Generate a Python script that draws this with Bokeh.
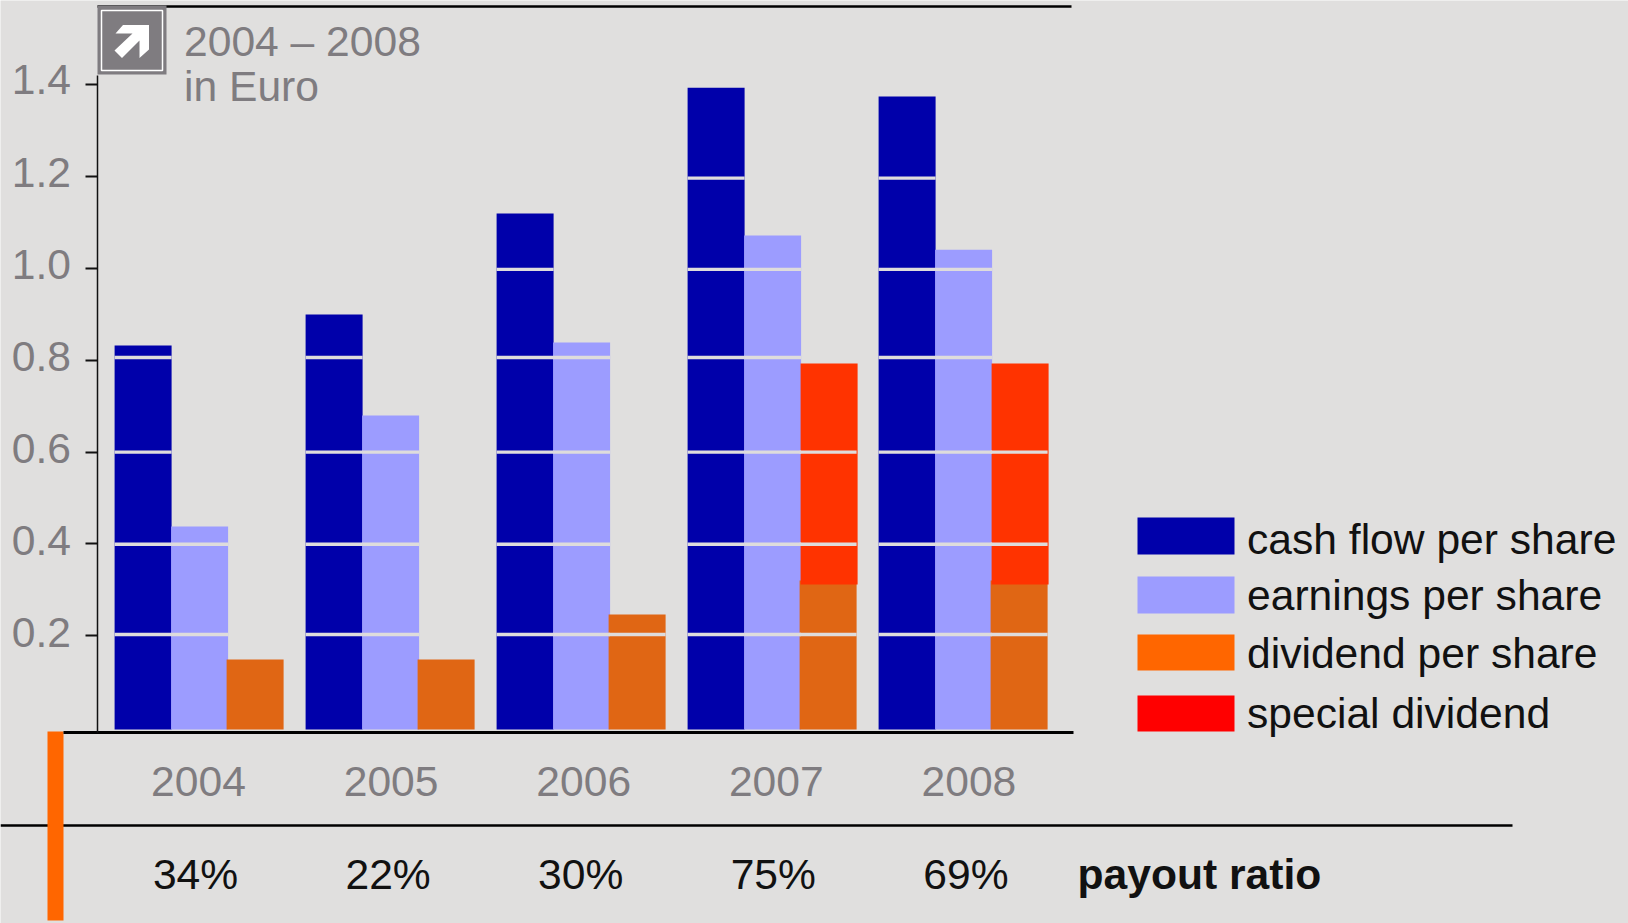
from bokeh.core.properties import value
from bokeh.embed import file_html
from bokeh.models import FixedTicker, LinearAxis, NumeralTickFormatter, Range1d
from bokeh.plotting import figure
from bokeh.resources import INLINE

# Per-share figures in Euro
years = [2004, 2005, 2006, 2007, 2008]
cash_flow = [0.832, 0.900, 1.120, 1.394, 1.375]
earnings = [0.438, 0.680, 0.839, 1.072, 1.041]
dividend = [0.148, 0.148, 0.246, 0.320, 0.320]
special_base = [0.3115, 0.3115]
special_top = [0.793, 0.793]
special_years = [2007, 2008]
payout = ["34%", "22%", "30%", "75%", "69%"]
value_ticks = [0.2, 0.4, 0.6, 0.8, 1.0, 1.2, 1.4]
band_levels = [0.2026, 0.3993, 0.600, 0.806, 0.998, 1.197]
legend_labels = ["cash flow per share", "earnings per share", "dividend per share", "special dividend"]
legend_colors = ["#0000AA", "#9C9CFF", "#FF6600", "#FF0000"]

W, H = 1628, 923
BG = "#E0DFDE"
GREY = "#7F7C80"
INK = "#111111"
FONT = value("Liberation Sans")
SIZE = "42.6px"

# Scale of the value and year axes in page pixels
ZERO_Y, PX_PER_EURO = 727.0, 459.0
LABEL_ZERO_Y, LABEL_PX_PER_EURO = 724.5, 460.75
CENTER_X, PX_PER_YEAR = 199.1, 191.0
LABEL_X, PX_PER_LABEL = 198.0, 192.6
FLOOR = -0.0044
# Text in this backend lands below the requested baseline by this many pixels
TEXT_SHIFT = 15

p = figure(
    width=W, height=H, output_backend="svg", toolbar_location=None,
    x_axis_type=None, y_axis_type=None,
    x_range=Range1d(2004 - CENTER_X / PX_PER_YEAR, 2004 + (W - CENTER_X) / PX_PER_YEAR),
    y_range=Range1d((ZERO_Y - H) / PX_PER_EURO, ZERO_Y / PX_PER_EURO),
    min_border=0, outline_line_color=None,
    background_fill_color=BG, border_fill_color=BG,
)
p.grid.visible = False
p.extra_x_ranges["page_x"] = Range1d(0, W)
p.extra_y_ranges["page_y"] = Range1d(H, 0)
p.extra_x_ranges["year_labels"] = Range1d(2004 - LABEL_X / PX_PER_LABEL, 2004 + (W - LABEL_X) / PX_PER_LABEL)
p.extra_y_ranges["value_labels"] = Range1d((LABEL_ZERO_Y - H) / LABEL_PX_PER_EURO, LABEL_ZERO_Y / LABEL_PX_PER_EURO)
page = dict(x_range_name="page_x", y_range_name="page_y")

# Clustered columns; the special dividend sits on the regular one
BAR_W = 57 / PX_PER_YEAR
OFF_BLUE, OFF_ORANGE, OFF_RED = -56.5 / PX_PER_YEAR, 55.5 / PX_PER_YEAR, 56.5 / PX_PER_YEAR
blue_x = [y + OFF_BLUE for y in years]
orange_x = [y + OFF_ORANGE for y in years]
red_x = [y + OFF_RED for y in special_years]
p.vbar(x=blue_x, top=cash_flow, bottom=FLOOR, width=BAR_W, fill_color="#0000AA", line_color=None)
p.vbar(x=years, top=earnings, bottom=FLOOR, width=BAR_W, fill_color="#9C9CFF", line_color=None)
p.vbar(x=orange_x, top=dividend, bottom=FLOOR, width=BAR_W, fill_color="#E06614", line_color=None)
p.vbar(x=red_x, top=special_top, bottom=special_base, width=BAR_W, fill_color="#FF3300", line_color=None)

# Pale bands cut across the columns, only where a column reaches them
tops = {}
for x, t in zip(blue_x + list(years) + orange_x, cash_flow + earnings + dividend):
    tops[x] = t
for x, t in zip(orange_x[3:], special_top):
    tops[x] = t
x0, x1, ys = [], [], []
for x, t in tops.items():
    for level in band_levels:
        if level < t:
            x0.append(x - BAR_W / 2)
            x1.append(x + BAR_W / 2)
            ys.append(level)
p.segment(x0=x0, y0=ys, x1=x1, y1=ys, line_color="#DEDCDC", line_width=3.4)

AXIS_X = 2004 + (96.5 - CENTER_X) / PX_PER_YEAR

# Value axis: line and tick marks
left = LinearAxis(
    fixed_location=AXIS_X,
    bounds=(-0.011, 1.42),
    ticker=FixedTicker(ticks=value_ticks),
    major_tick_out=12, major_tick_in=0, minor_tick_line_color=None,
    major_tick_line_color="#111111", major_tick_line_width=2,
    axis_line_color="#111111", axis_line_width=1.5,
    major_label_text_font_size="0px", major_label_text_color=None,
)
p.add_layout(left, "left")

# Value axis: labels, on a scale of their own that sits slightly higher than the marks
left_labels = LinearAxis(
    y_range_name="value_labels",
    fixed_location=AXIS_X,
    ticker=FixedTicker(ticks=value_ticks),
    formatter=NumeralTickFormatter(format="0.0"),
    major_tick_out=12, major_tick_in=0,
    major_tick_line_color=None, minor_tick_line_color=None, axis_line_color=None,
    major_label_text_font="Liberation Sans", major_label_text_font_size=SIZE,
    major_label_text_color=GREY, major_label_standoff=14,
)
p.add_layout(left_labels, "left")

# Year axis
below = LinearAxis(
    x_range_name="year_labels",
    fixed_location=(ZERO_Y - 732) / PX_PER_EURO,
    bounds=(2004 + (63 - LABEL_X) / PX_PER_LABEL, 2004 + (1073 - LABEL_X) / PX_PER_LABEL),
    ticker=FixedTicker(ticks=years),
    major_tick_line_color=None, minor_tick_line_color=None,
    axis_line_color="#000000", axis_line_width=3,
    major_label_text_font="Liberation Sans", major_label_text_font_size=SIZE,
    major_label_text_color=GREY, major_label_standoff=28,
)
p.add_layout(below, "below")

# Rules
p.segment(x0=[97, 0], y0=[6, 825], x1=[1071, 1512], y1=[6, 825], line_color="#000000",
          line_width=2.4, **page)
p.quad(left=[47], right=[63], top=[731], bottom=[920], fill_color="#FF6600", line_color=None, **page)

# Arrow badge
p.quad(left=[97], right=[166], top=[5], bottom=[74], fill_color=GREY, line_color=None, **page)
p.quad(left=[101], right=[162], top=[10], bottom=[70], fill_color=GREY, line_color="#FFFFFF",
       line_width=1.5, **page)
p.patch(x=[122.5, 148.5, 148.5, 139, 139, 121.5, 114, 132, 115],
        y=[24.5, 24.5, 49, 57.5, 40, 57.5, 50, 33, 33],
        fill_color="#FFFFFF", line_color=None, **page)

# Caption
p.text(x=[183.5, 183.5], y=[55 - TEXT_SHIFT, 100.7 - TEXT_SHIFT], text=["2004 – 2008", "in Euro"], text_font=FONT,
       text_font_size=SIZE, text_color=GREY, text_baseline="alphabetic", **page)

# Payout row
p.text(x=years, y=[888 - TEXT_SHIFT] * len(years), text=payout, x_offset=-3, text_align="center",
       text_baseline="alphabetic", text_font=FONT, text_font_size=SIZE, text_color=INK,
       x_range_name="year_labels", y_range_name="page_y")
p.text(x=[1077], y=[888 - TEXT_SHIFT], text=["payout ratio"], text_font=FONT, text_font_size=SIZE,
       text_font_style="bold", text_color=INK, text_baseline="alphabetic", **page)

# Key
p.quad(left=[1137] * 4, right=[1234] * 4, top=[517, 576, 634, 695], bottom=[554, 613, 670, 731],
       fill_color=legend_colors, line_color=None, **page)
p.text(x=[1246.5] * 4, y=[v - TEXT_SHIFT for v in [553, 609.5, 667, 727]], text=legend_labels, text_font=FONT,
       text_font_size=SIZE, text_color=INK, text_baseline="alphabetic", **page)

open("out.html", "w").write(file_html(p, INLINE))
